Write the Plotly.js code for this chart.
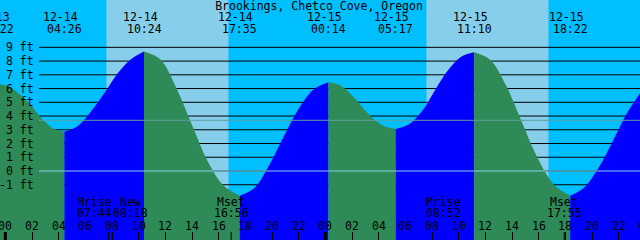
<!DOCTYPE html>
<html><head><meta charset="utf-8">
<script src="https://cdn.plot.ly/plotly-3.0.1.min.js"></script>
<style>html,body{margin:0;padding:0;overflow:hidden;background:#00BFFF}#chart{width:640px;height:240px}</style>
</head><body><div id="chart"></div>
<script>
const stationName = "Brookings, Chetco Cove, Oregon";

// Tide height readings (feet)
const tideTimes = [
"2020-12-13 23:22","2020-12-14 00:13","2020-12-14 01:03","2020-12-14 01:54","2020-12-14 02:45","2020-12-14 03:35","2020-12-14 04:26",
"2020-12-14 05:26","2020-12-14 06:25","2020-12-14 07:25","2020-12-14 08:25","2020-12-14 09:24","2020-12-14 10:24",
"2020-12-14 11:36","2020-12-14 12:48","2020-12-14 14:00","2020-12-14 15:11","2020-12-14 16:23","2020-12-14 17:35",
"2020-12-14 18:42","2020-12-14 19:48","2020-12-14 20:54","2020-12-14 22:01","2020-12-14 23:08","2020-12-15 00:14",
"2020-12-15 01:05","2020-12-15 01:55","2020-12-15 02:45","2020-12-15 03:36","2020-12-15 04:27","2020-12-15 05:17",
"2020-12-15 06:16","2020-12-15 07:15","2020-12-15 08:14","2020-12-15 09:12","2020-12-15 10:11","2020-12-15 11:10",
"2020-12-15 12:22","2020-12-15 13:34","2020-12-15 14:46","2020-12-15 15:58","2020-12-15 17:10","2020-12-15 18:22",
"2020-12-15 19:25","2020-12-15 20:28","2020-12-15 21:31","2020-12-15 22:33","2020-12-15 23:36"];
const tideFeet = [
6.35,6.16,5.6,4.8,3.8,3.1,2.86,
3.28,4.32,5.65,7.1,8.12,8.7,
8.15,6.1,3.35,0.7,-1.08,-1.8,
-1.22,0.45,2.55,4.55,5.95,6.46,
6.25,5.58,4.68,3.8,3.25,3.06,
3.4,4.35,5.9,7.33,8.32,8.64,
8.08,6.2,3.5,0.85,-1.02,-1.8,
-1.2,0.2,2.1,4.08,5.65];

// High / low events
const extremeTimes = ["2020-12-13 23:22","2020-12-14 04:26","2020-12-14 10:24","2020-12-14 17:35","2020-12-15 00:14","2020-12-15 05:17","2020-12-15 11:10","2020-12-15 18:22"];
const extremeKinds = ["H","L","H","L","H","L","H","L"];

// Daylight
const dayStarts = ["2020-12-14 07:35","2020-12-15 07:35"];
const dayEnds   = ["2020-12-14 16:44","2020-12-15 16:44"];

// Moon events
const moonTimes  = ["2020-12-14 07:44","2020-12-14 08:18","2020-12-14 16:56","2020-12-15 08:52","2020-12-15 17:55"];
const moonNames  = ["Mrise","New","Mset","Mrise","Mset"];
const moonTicked = [true,false,true,true,true];
const moonShift  = [-14,14,0,0,0];

// Levels
const levelFeet   = [-1,0,1,2,3,4,5,6,7,8,9];
const levelLabels = ["-1 ft","0 ft","1 ft","2 ft","3 ft","4 ft","5 ft","6 ft","7 ft","8 ft","9 ft"];
const datumFeet = 0;
const mslFeet = 3.69;

// Hour axis
const axisDays   = ["2020-12-14","2020-12-15","2020-12-16"];
const hourLabels = ["00","02","04","06","08","10","12","14","16","18","20","22"];

const xStart = "2020-12-13 23:36", xEnd = "2020-12-15 23:36";
const yRange = [-5.022, 12.445];

const FONT = "DejaVu Sans Mono, monospace";
const FS = 11.5;
const COL_NIGHT = "#00BFFF", COL_DAY = "#87CEEB", COL_RISE = "#0000FF", COL_FALL = "#2E8B57";

const ms = s => new Date(s.replace(" ", "T")).getTime();
const t0 = ms(xStart), t1 = ms(xEnd);
const inRange = s => { const t = ms(s); return t >= t0 && t <= t1; };
const toPaper = s => (ms(s) - t0) / (t1 - t0);
function xPos(s) { return inRange(s) ? {x: s, xref: "x"} : {x: toPaper(s), xref: "paper"}; }

// Fill segments (rising = blue, falling = green)
const traces = [];
for (let i = 0; i < extremeTimes.length; i++) {
  const a = ms(extremeTimes[i]);
  const b = i + 1 < extremeTimes.length ? ms(extremeTimes[i + 1]) : ms(tideTimes[tideTimes.length - 1]);
  const sx = [], sy = [];
  tideTimes.forEach((t, k) => { const v = ms(t); if (v >= a && v <= b) { sx.push(t); sy.push(tideFeet[k]); } });
  traces.push({x: [sx[0], sx[sx.length - 1]], y: [-6, -6], mode: "lines", line: {width: 0}, hoverinfo: "skip", showlegend: false});
  traces.push({x: sx, y: sy, mode: "lines", line: {width: 0, shape: "spline", smoothing: 1},
    fill: "tonexty", fillcolor: extremeKinds[i] === "H" ? COL_FALL : COL_RISE, hoverinfo: "skip", showlegend: false});
}

const shapes = [];
dayStarts.forEach((d, i) => shapes.push({type: "rect", xref: "x", yref: "paper", x0: d, x1: dayEnds[i], y0: 0, y1: 1,
  fillcolor: COL_DAY, line: {width: 0}, layer: "below"}));
const lineX0 = 39 / 640;
levelFeet.forEach(f => shapes.push({type: "line", xref: "paper", yref: "y", x0: lineX0, x1: 1, y0: f, y1: f,
  line: {color: "#000", width: 1}, layer: "below"}));
shapes.push({type: "line", xref: "paper", yref: "y", x0: lineX0, x1: 1, y0: datumFeet, y1: datumFeet, line: {color: "#87CEEB", width: 1}, layer: "above"});
shapes.push({type: "line", xref: "paper", yref: "y", x0: lineX0, x1: 1, y0: mslFeet, y1: mslFeet, line: {color: "#5F9EA0", width: 1}, layer: "above"});
axisDays.forEach(d => { const s = d + " 00:00"; if (inRange(s)) shapes.push({type: "line", xref: "x", yref: "paper", x0: s, x1: s, y0: 0, y1: 8 / 240, line: {color: "#000", width: 3}, layer: "above"}); });
moonTimes.forEach((m, i) => { if (moonTicked[i]) shapes.push({type: "line", xref: "x", yref: "paper", x0: m, x1: m, y0: 0, y1: 8 / 240, line: {color: "#000", width: 1}, layer: "above"}); });

const annotations = [];
const ann = (o) => annotations.push(Object.assign({showarrow: false, font: {family: FONT, size: FS, color: "#000"}, borderpad: 0}, o));
const py = px => 1 - px / 240;

extremeTimes.forEach(t => {
  const date = t.slice(5, 10), time = t.slice(11, 16);
  ann(Object.assign(xPos(t), {xshift: -4, yref: "paper", y: py(17), yanchor: "middle", xanchor: "center", text: date}));
  ann(Object.assign(xPos(t), {yref: "paper", y: py(29.2), yanchor: "middle", xanchor: "center", text: time}));
});
levelFeet.forEach((f, i) => ann({xref: "paper", x: 35 / 640, xanchor: "right", yref: "y", y: f, yanchor: "middle", text: levelLabels[i]}));
axisDays.forEach(d => hourLabels.forEach(h => {
  const s = d + " " + h + ":00";
  const p = toPaper(s);
  if (p > -0.05 && p < 1.05) ann(Object.assign(xPos(s), {yref: "paper", y: py(225.5), yanchor: "middle", xanchor: "center", text: h}));
}));
moonTimes.forEach((m, i) => {
  ann(Object.assign(xPos(m), {xshift: moonShift[i], yref: "paper", y: py(201.5), yanchor: "middle", xanchor: "center", text: moonNames[i]}));
  ann(Object.assign(xPos(m), {xshift: moonShift[i], yref: "paper", y: py(213.3), yanchor: "middle", xanchor: "center", text: m.slice(11, 16)}));
});

const layout = {
  width: 640, height: 240, margin: {l: 0, r: 0, t: 0, b: 0, pad: 0},
  paper_bgcolor: COL_NIGHT, plot_bgcolor: COL_NIGHT, showlegend: false,
  title: {text: stationName, x: 319 / 640, xanchor: "center", xref: "paper", y: py(5.5), yanchor: "middle", yref: "container",
    font: {family: FONT, size: FS, color: "#000"}},
  xaxis: {type: "date", range: [xStart, xEnd], showgrid: false, zeroline: false, showline: false,
    ticks: "inside", ticklen: 8, tickwidth: 1, tickcolor: "#000", dtick: 7200000, tick0: "2020-12-14 00:00",
    showticklabels: false, fixedrange: true},
  yaxis: {range: yRange, showgrid: false, zeroline: false, showline: false, showticklabels: false, ticks: "", fixedrange: true},
  shapes: shapes, annotations: annotations
};
Plotly.newPlot("chart", traces, layout, {displayModeBar: false, staticPlot: true});
</script></body></html>
